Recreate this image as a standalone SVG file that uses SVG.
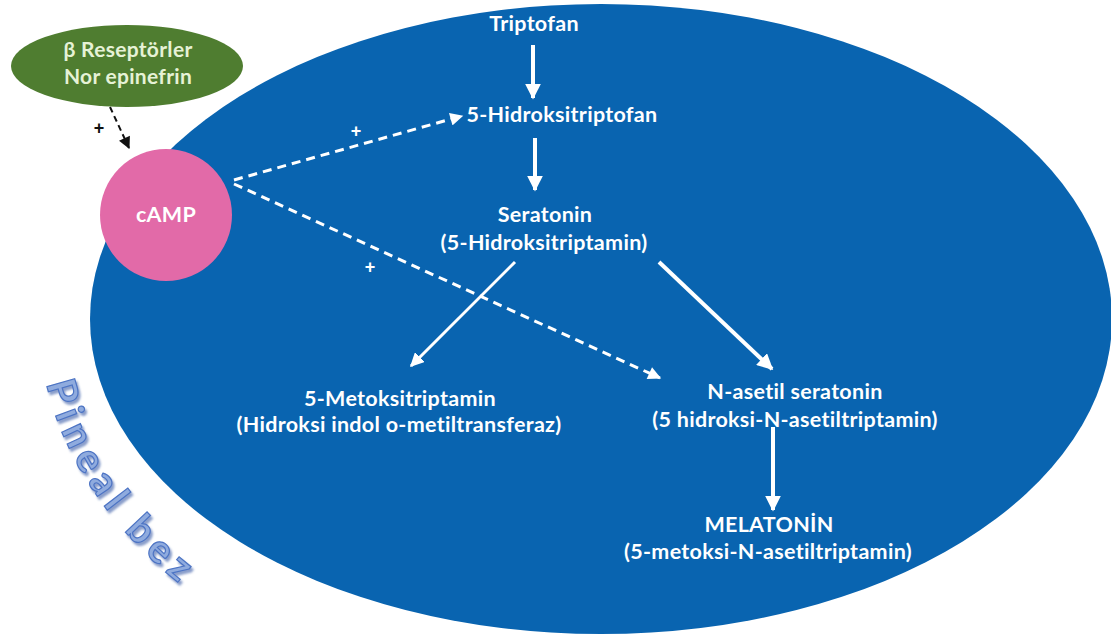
<svg xmlns="http://www.w3.org/2000/svg" width="1111" height="637" viewBox="0 0 1111 637">
<style>
.t{font-family:Lato,"Open Sans","Liberation Sans",sans-serif;font-weight:bold;font-size:21.5px;letter-spacing:0.3px;fill:#ffffff;text-anchor:middle}
.g{font-family:Lato,"Open Sans","Liberation Sans",sans-serif;font-weight:bold;font-size:21px;letter-spacing:0.3px;fill:#e6f2d6;text-anchor:middle}
.plus{font-family:"Liberation Sans",sans-serif;font-size:18px;font-weight:bold;text-anchor:middle}
.solid{stroke:#ffffff;fill:none}
.wdash{stroke:#ffffff;stroke-width:3;stroke-dasharray:9 6;fill:none}
.bdash{stroke:#111111;stroke-width:2;stroke-dasharray:6 4;fill:none}
.pb{font-family:Lato,"Open Sans","Liberation Sans",sans-serif;font-weight:bold;font-size:40px;letter-spacing:7px;fill:#8fabde;stroke:#4d74c4;stroke-width:1.2}
</style>
<defs>
<marker id="wa" viewBox="0 0 10 10" refX="9" refY="5" markerWidth="14" markerHeight="14" markerUnits="userSpaceOnUse" orient="auto"><path d="M0,0 L10,5 L0,10 z" fill="#ffffff"/></marker>
<marker id="wb" viewBox="0 0 10 10" refX="9" refY="5" markerWidth="16" markerHeight="16" markerUnits="userSpaceOnUse" orient="auto"><path d="M0,0 L10,5 L0,10 z" fill="#ffffff"/></marker>
<marker id="wd" viewBox="0 0 10 10" refX="9" refY="5" markerWidth="14" markerHeight="13" markerUnits="userSpaceOnUse" orient="auto"><path d="M0,0 L10,5 L0,10 z" fill="#ffffff"/></marker>
<marker id="bk" viewBox="0 0 10 10" refX="9" refY="5" markerWidth="13" markerHeight="12" markerUnits="userSpaceOnUse" orient="auto"><path d="M0,0 L10,5 L0,10 z" fill="#111111"/></marker>
<path id="arcp" d="M41.1,353.9 A562 400 0 0 0 408.8,694.9"/>
<filter id="sh" x="-20%" y="-20%" width="140%" height="140%"><feDropShadow dx="2" dy="3" stdDeviation="1.2" flood-color="#3a5ea8" flood-opacity="0.6"/></filter>
</defs>

<g id="pineal">
<ellipse cx="601" cy="319" rx="511" ry="315" fill="#0964b0"/>
</g>

<g id="pineal-label">
<text class="pb" filter="url(#sh)"><textPath href="#arcp" startOffset="30">Pineal bez</textPath></text>
</g>

<g id="connectors">
<line class="solid" x1="533" y1="45" x2="533" y2="98" stroke-width="4" marker-end="url(#wb)"/>
<line class="solid" x1="535" y1="138" x2="535" y2="190" stroke-width="4" marker-end="url(#wb)"/>
<line class="solid" x1="515" y1="262" x2="411" y2="366" stroke-width="3" marker-end="url(#wa)"/>
<line class="solid" x1="659" y1="262" x2="772" y2="369" stroke-width="4" marker-end="url(#wb)"/>
<line class="solid" x1="773" y1="427" x2="773" y2="510" stroke-width="4" marker-end="url(#wb)"/>
<line class="wdash" x1="234" y1="180" x2="462" y2="116" marker-end="url(#wd)"/>
<line class="wdash" x1="234" y1="184" x2="660" y2="378" marker-end="url(#wd)"/>
<line class="bdash" x1="110" y1="107" x2="129" y2="148" marker-end="url(#bk)"/>
<text class="plus" x="99" y="134" fill="#111111">+</text>
<text class="plus" x="356" y="137" fill="#ffffff" font-size="20">+</text>
<text class="plus" x="370" y="273" fill="#ffffff" font-size="20">+</text>
</g>

<g id="beta">
<ellipse cx="127" cy="66" rx="116" ry="41" fill="#4f7d30"/>
<text class="g" x="128" y="57">β Reseptörler</text>
<text class="g" x="128" y="84">Nor epinefrin</text>
</g>

<g id="camp">
<circle cx="166" cy="215" r="66" fill="#e26aa8"/>
<text class="t" x="166" y="222" font-size="18">cAMP</text>
</g>

<g id="triptofan"><text class="t" x="534" y="31">Triptofan</text></g>
<g id="hidroksitriptofan"><text class="t" x="562" y="122">5-Hidroksitriptofan</text></g>
<g id="seratonin"><text class="t" x="545" y="222">Seratonin</text><text class="t" x="544" y="250">(5-Hidroksitriptamin)</text></g>
<g id="metoksitriptamin"><text class="t" x="400" y="406">5-Metoksitriptamin</text><text class="t" x="399" y="432">(Hidroksi indol o-metiltransferaz)</text></g>
<g id="nasetil"><text class="t" x="795" y="399">N-asetil seratonin</text><text class="t" x="795" y="427">(5 hidroksi-N-asetiltriptamin)</text></g>
<g id="melatonin"><text class="t" x="769" y="532">MELATONİN</text><text class="t" x="768" y="559">(5-metoksi-N-asetiltriptamin)</text></g>
</svg>
